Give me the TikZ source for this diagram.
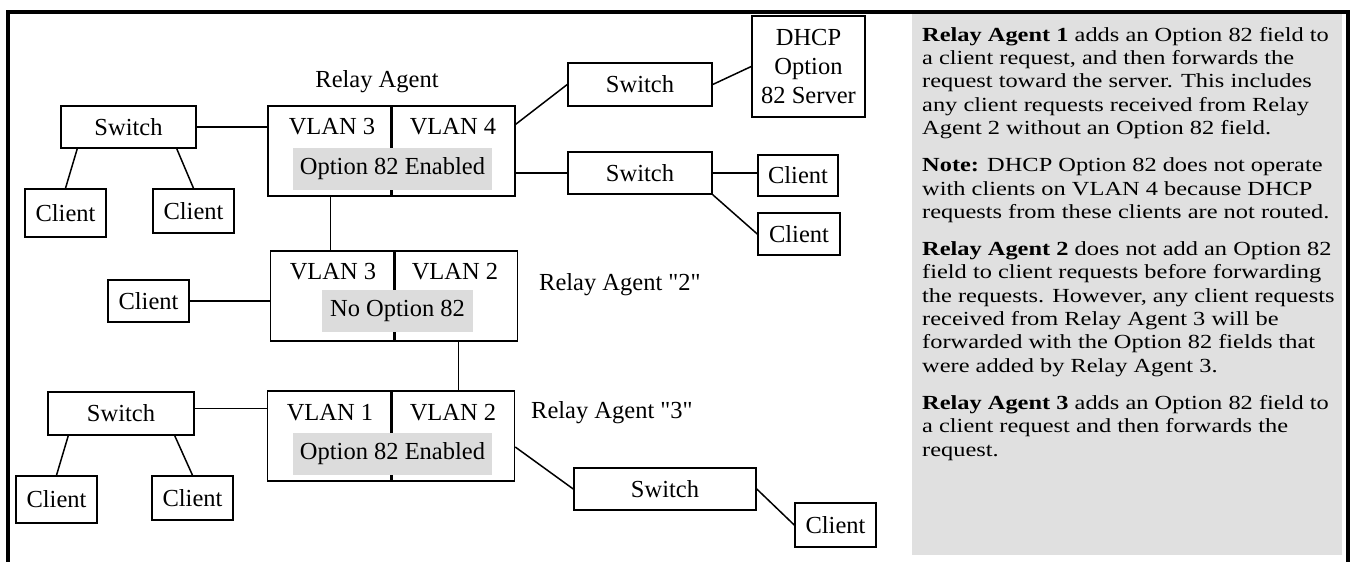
\documentclass[tikz,border=0pt]{standalone}
\usepackage{fontspec}
\setmainfont{Liberation Serif}
\newfontfamily\diagfont{Liberation Serif}
\newfontfamily\notefont{Liberation Serif}[FakeStretch=1.22]
\definecolor{panelgray}{RGB}{224,224,224}
\definecolor{optgray}{RGB}{220,220,220}
\usetikzlibrary{positioning,calc}

\tikzset{
  devbox/.style={draw, line width=1.5pt, inner sep=0pt, align=center, font=\diagfont\fontsize{24.5}{29}\selectfont},
  switchbox/.style={devbox, minimum width=144pt, minimum height=42pt},
  clientbox/.style={devbox, minimum width=81pt, minimum height=44pt},
  agentbox/.style={devbox, minimum width=247pt, minimum height=90pt},
  vlanlabel/.style={inner sep=0pt, font=\diagfont\fontsize{24.5}{29}\selectfont},
  optlabel/.style={fill=optgray, inner sep=0pt, minimum height=42pt, font=\diagfont\fontsize{24.5}{29}\selectfont},
  link/.style={line width=1.5pt},
  divider/.style={line width=3pt}
}

\begin{document}
\begin{tikzpicture}[x=1pt, y=-1pt]
    \useasboundingbox (0,0) rectangle (1352,562);
    % outer frame, open at the bottom
    \draw[line width=4pt] (8,564) -- (8,12) -- (1348,12) -- (1348,564);

    % relay agents
    \node[agentbox] (ra1) at (391.5,151) {};
    \node[agentbox] (ra2) at (394,296) {};
    \node[agentbox] (ra3) at (391,436) {};
    \foreach \r in {ra1,ra2,ra3}
        \draw[divider] (\r.north) -- (\r.south);

    \node[vlanlabel] (ra1v3) at (332,127) {VLAN 3};
    \node[vlanlabel] (ra1v4) at (453,127) {VLAN 4};
    \node[optlabel, minimum width=199pt] (ra1opt) at (392.5,168.5) {Option 82 Enabled};
    \node[vlanlabel] (ra2v3) at (333,272) {VLAN 3};
    \node[vlanlabel] (ra2v2) at (455,272) {VLAN 2};
    \node[optlabel, minimum width=151pt] (ra2opt) at (397.5,310.5) {No Option 82};
    \node[vlanlabel] (ra3v1) at (330,413) {VLAN 1};
    \node[vlanlabel] (ra3v2) at (453,413) {VLAN 2};
    \node[optlabel, minimum width=199pt] (ra3opt) at (392.5,453.5) {Option 82 Enabled};

    \node[vlanlabel] (ra1name) at (377,82) {Relay Agent};
    \node[vlanlabel, anchor=west] (ra2name) at (539,285) {Relay Agent "2"};
    \node[vlanlabel, anchor=west] (ra3name) at (531,413) {Relay Agent "3"};

    % switches, server and clients
    \node[switchbox, minimum width=135pt] (sw1) at (128.5,127) {Switch};
    \node[clientbox, minimum height=48pt] (c1) at (65.5,213) {Client};
    \node[clientbox] (c2) at (193.5,211) {Client};
    \node[switchbox, minimum height=43pt] (sw2) at (640,84.5) {Switch};
    \node[devbox, minimum width=113pt, minimum height=101pt] (dhcp) at (808.5,66.5) {DHCP\\Option\\82 Server};
    \node[switchbox] (sw3) at (640,173) {Switch};
    \node[clientbox, minimum width=80pt, minimum height=41pt] (c3) at (798,175.5) {Client};
    \node[clientbox, minimum width=82pt, minimum height=42pt] (c4) at (799,234) {Client};
    \node[clientbox, minimum height=42pt] (c5) at (148.5,301) {Client};
    \node[switchbox, minimum width=146pt, minimum height=43pt] (sw4) at (121,413.5) {Switch};
    \node[clientbox, minimum height=47pt] (c6) at (56.5,499.5) {Client};
    \node[clientbox] (c7) at (192.5,498) {Client};
    \node[switchbox, minimum width=182pt] (sw5) at (665,489) {Switch};
    \node[clientbox] (c8) at (835.5,525) {Client};

    % links
    \coordinate (ra1down) at ($(ra1.south west)+(63,0)$);
    \coordinate (ra2down) at ($(ra2.south east)+(-60,0)$);
    \coordinate (ra1up) at ($(ra1.north east)+(0,19)$);
    \coordinate (ra3out) at ($(ra3.east)+(0,11)$);
    \draw[link] (sw1.east) -- (sw1.east -| ra1.west);
    \draw[link] ($(sw1.south west)+(17,0)$) -- (c1.north);
    \draw[link] ($(sw1.south east)+(-20,0)$) -- (c2.north);
    \draw[link] (ra1down) -- (ra1down |- ra2.north);
    \draw[link] (ra2down) -- (ra2down |- ra3.north);
    \draw[link] (ra1up) -- (sw2.west);
    \draw[link] (sw2.east) -- (dhcp.west);
    \draw[link] (sw3.west -| ra1.east) -- (sw3.west);
    \draw[link] (sw3.east) -- (sw3.east -| c3.west);
    \draw[link] (sw3.south east) -- (c4.west);
    \draw[link] (c5.east) -- (c5.east -| ra2.west);
    \draw[link] ([yshift=5pt]sw4.east) -- ([yshift=5pt]sw4.east -| ra3.west);
    \draw[link] ($(sw4.south west)+(21,0)$) -- (c6.north);
    \draw[link] ($(sw4.south east)+(-20,0)$) -- (c7.north);
    \draw[link] (ra3out) -- (sw5.west);
    \draw[link] (sw5.east) -- (c8.west);

    % explanation panel
    \node[fill=panelgray, inner sep=0pt, minimum width=430pt, minimum height=541pt, anchor=north west] (panel) at (912,14) {};
    \node[anchor=north west, align=left, inner sep=0pt, font=\notefont\fontsize{20}{23.3}\selectfont] (notes) at (922,27) {%
        \textbf{Relay Agent 1} adds an Option 82 field to\\
        a client request, and then forwards the\\
        request toward the server. This includes\\
        any client requests received from Relay\\
        Agent 2 without an Option 82 field.\\[14pt]
        \textbf{Note:} DHCP Option 82 does not operate\\
        with clients on VLAN 4 because DHCP\\
        requests from these clients are not routed.\\[14pt]
        \textbf{Relay Agent 2} does not add an Option 82\\
        field to client requests before forwarding\\
        the requests. However, any client requests\\
        received from Relay Agent 3 will be\\
        forwarded with the Option 82 fields that\\
        were added by Relay Agent 3.\\[14pt]
        \textbf{Relay Agent 3} adds an Option 82 field to\\
        a client request and then forwards the\\
        request.};
\end{tikzpicture}
\end{document}
